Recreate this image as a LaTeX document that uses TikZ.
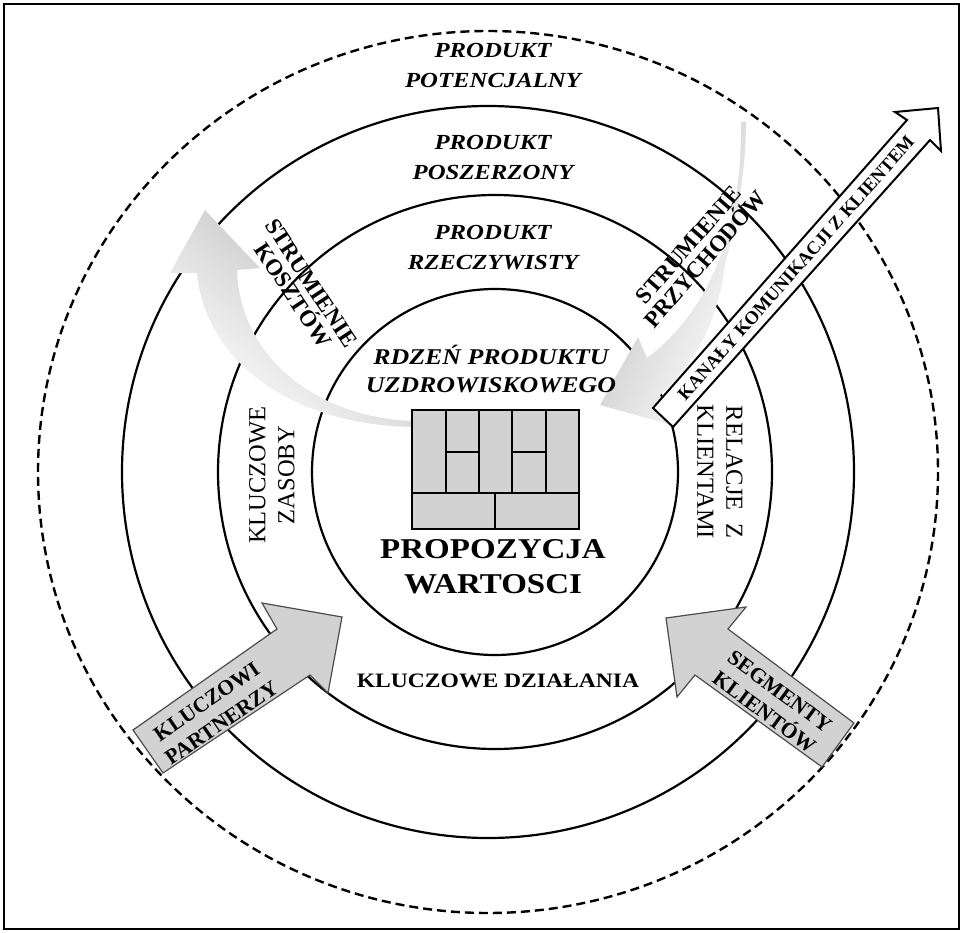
\documentclass[tikz,border=0pt]{standalone}
\usepackage{fontspec}
\setmainfont{Liberation Serif}
\newfontfamily\widefont[FakeStretch=1.15]{Liberation Serif}
\begin{document}
\begin{tikzpicture}[x=1pt,y=-1pt,
  ring/.style={line width=2.2pt},
  ringdash/.style={line width=2.4pt, dash pattern=on 9pt off 5pt},
  lblit/.style={font=\widefont\bfseries\itshape\fontsize{21.5}{30}\selectfont, align=center, inner sep=0pt},
  lblcore/.style={font=\widefont\bfseries\itshape\fontsize{22.5}{28}\selectfont, align=center, inner sep=0pt},
  lblbig/.style={font=\widefont\bfseries\fontsize{28.7}{35}\selectfont, align=center, inner sep=0pt},
  lblbold/.style={font=\widefont\bfseries\fontsize{20.5}{25}\selectfont, align=center, inner sep=0pt},
  lblvert/.style={font=\fontsize{24.5}{29}\selectfont, align=center, inner sep=0pt},
  lblarrow/.style={font=\bfseries\fontsize{21.5}{26}\selectfont, align=center, inner sep=0pt},
  lblstream/.style={font=\bfseries\fontsize{23}{22}\selectfont, align=center, inner sep=0pt},
  lblchannel/.style={font=\bfseries\fontsize{18.5}{20}\selectfont, inner sep=0pt},
  cell/.style={line width=2pt},
  blockarrow/.style={fill=gray!35, draw=black!70, line width=1.2pt},
  streamarrow/.style={right color=white}
]
\useasboundingbox (0,0) rectangle (963,933);
% frame
\draw[line width=1.5pt] (4,4) rectangle (959,929);
% rings
\draw[ringdash] (488,472) ellipse[x radius=450, y radius=441];
\draw[ring] (488,472) circle[radius=366];
\draw[ring] (495,472) circle[radius=277];
\draw[ring] (495,472) circle[radius=183];
% cost stream arrow
\path[left color=gray!55, middle color=gray!30, right color=white, shading angle=-40]
  (205,210) -- (260,268) -- (237,270) .. controls (240,360) and (320,418) .. (413,421)
  -- (413,427) .. controls (290,425) and (205,360) .. (197,273) -- (170,273) -- cycle;
% revenue stream arrow
\path[left color=gray!55, middle color=gray!30, right color=white, shading angle=65]
  (741,122) .. controls (742,230) and (710,310) .. (647,358) -- (638,337) -- (600,405)
  -- (672,425) -- (660,395) .. controls (695,365) and (718,320) .. (725,265)
  .. controls (738,215) and (746,170) .. (746,122) -- cycle;
% canvas grid
\draw[cell, fill=gray!35] (412,410) rectangle (579,529);
\draw[cell] (412,493) -- (579,493);
\foreach \xx in {446,479,512,546} \draw[cell] (\xx,410) -- (\xx,493);
\draw[cell] (446,452) -- (479,452);
\draw[cell] (512,452) -- (546,452);
\draw[cell] (495,493) -- (495,529);
% channels arrow
\draw[fill=white, line width=2pt, line join=miter]
  (653,408) -- (907,120) -- (895,112) -- (938,108) -- (941,151) -- (930,140) -- (673,427) -- cycle;
% partners and segments arrows
\draw[blockarrow] (163,773) -- (133,730) -- (277,629) -- (262,603) -- (342,617) -- (328,693) -- (310,675) -- cycle;
\draw[blockarrow] (666,618) -- (746,607) -- (728,629) -- (854,723) -- (822,767) -- (695,675) -- (677,697) -- cycle;
% texts
\node[lblit] (pot) at (493,65) {PRODUKT\\POTENCJALNY};
\node[lblit] (posz) at (493,157) {PRODUKT\\POSZERZONY};
\node[lblit] (rzecz) at (493,248) {PRODUKT\\RZECZYWISTY};
\node[lblcore] (rdzen) at (491,369) {RDZEŃ PRODUKTU\\UZDROWISKOWEGO};
\node[lblbig] (prop) at (493,567) {PROPOZYCJA\\WARTOSCI};
\node[lblbold] (dzial) at (498,681) {KLUCZOWE DZIAŁANIA};
\node[lblvert, rotate=90] (zasoby) at (272,475) {KLUCZOWE\\ZASOBY};
\node[lblvert, rotate=-90] (relacje) at (720,472) {RELACJE\enspace Z\\KLIENTAMI};
\node[lblarrow, rotate=34.5] (partn) at (214,712) {KLUCZOWI\\PARTNERZY};
\node[lblarrow, rotate=-36.5] (segm) at (772,702) {SEGMENTY\\KLIENTÓW};
\node[lblchannel, rotate=48.4] (kanaly) at (796,268) {KANAŁY KOMUNIKACJI Z KLIENTEM};
\node[lblstream, rotate=-56.5] (koszt) at (302,289) {STRUMIENIE\\KOSZTÓW};
\node[lblstream, rotate=49] (przych) at (697,252) {STRUMIENIE\\PRZYCHODÓW};
\end{tikzpicture}
\end{document}
